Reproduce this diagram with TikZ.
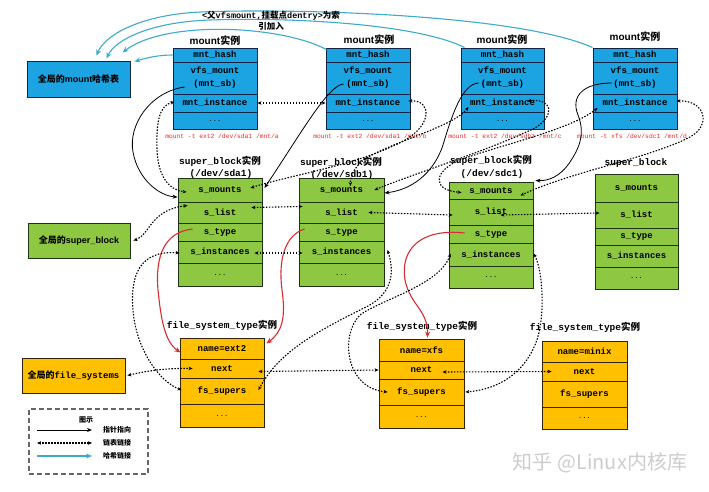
\documentclass[tikz,border=0pt]{standalone}
\usepackage{fontspec}
\setmainfont{Liberation Mono}
\newfontfamily\cjk{Noto Sans CJK SC}
\newfontfamily\sansf{Liberation Sans}
\usetikzlibrary{arrows.meta}
\definecolor{mfill}{RGB}{27,163,226}
\definecolor{mline}{RGB}{15,35,70}
\definecolor{gfill}{RGB}{142,200,66}
\definecolor{gline}{RGB}{30,50,20}
\definecolor{ofill}{RGB}{255,192,0}
\definecolor{oline}{RGB}{50,35,10}
\definecolor{hashc}{RGB}{62,170,205}
\definecolor{redc}{RGB}{215,45,50}
\definecolor{cmdc}{RGB}{235,40,40}
\definecolor{wmark}{RGB}{205,205,205}
\newcommand\zh[1]{{\cjk #1}}
\newcommand\fsz[1]{\fontsize{#1}{#1}\selectfont}
\newcommand\cell[7]{\node[#2, minimum width={(#5-#3)*1pt}, minimum height={(#6-#4)*1pt}] (#1) at ({(#3+#5)/2},{(#4+#6)/2}) {#7};}
\tikzset{
 base/.style={draw, line width=0.9pt, inner sep=0pt, align=center, font=\bfseries\fontsize{9}{13}\selectfont},
 mc/.style={base, draw=mline, fill=mfill},
 sc/.style={base, draw=gline, fill=gfill},
 fc/.style={base, draw=oline, fill=ofill},
 dots/.style={font=\fsz{7}},
 ptr/.style={-{Stealth[length=5pt,width=4pt]}, line width=0.8pt},
 lnk/.style={{Stealth[length=4pt,width=3.5pt]}-{Stealth[length=4pt,width=3.5pt]}, line width=1.1pt, dash pattern=on 1.5pt off 1.5pt},
 typ/.style={-{Stealth[length=6pt,width=5pt]}, line width=1.1pt, draw=redc},
 hsh/.style={-{Stealth[length=6pt,width=5pt]}, line width=1.1pt, draw=hashc},
 ttl/.style={font=\bfseries\fsz{9.5}, inner sep=0pt},
 mttl/.style={font=\sansf\bfseries\fsz{10}, inner sep=0pt},
 cmd/.style={font=\fsz{6.3}, text=cmdc, inner sep=0pt},
 lgd/.style={font=\cjk\bfseries\fsz{7}, inner sep=0pt},
}
\begin{document}
\begin{tikzpicture}[x=1pt,y=-1pt]
\useasboundingbox (0,0) rectangle (709,492);

% global boxes
\cell{g1}{mc}{27}{61}{130}{97}{\zh{全局的}{\sansf mount}\zh{哈希表}}
\cell{g2}{sc}{28}{223}{130}{258}{\zh{全局的}{\sansf super\_block}}
\cell{g3}{fc}{22}{358}{125}{393}{\zh{全局的}file\_systems}

% mount instances
\node[mttl] (tm1) at (215,41) {mount\zh{实例}};
\node[mttl] (tm2) at (369,40) {mount\zh{实例}};
\node[mttl] (tm3) at (502,40) {mount\zh{实例}};
\node[mttl] (tm4) at (635,37) {mount\zh{实例}};
\cell{m1h}{mc}{173}{48}{257}{62}{mnt\_hash}
\cell{m1v}{mc}{173}{62}{257}{94}{vfs\_mount\\(mnt\_sb)}
\cell{m1i}{mc}{173}{94}{257}{112}{mnt\_instance}
\cell{m1d}{mc,dots}{173}{112}{257}{129}{...}
\cell{m2h}{mc}{326}{48}{410}{62}{mnt\_hash}
\cell{m2v}{mc}{326}{62}{410}{94}{vfs\_mount\\(mnt\_sb)}
\cell{m2i}{mc}{326}{94}{410}{112}{mnt\_instance}
\cell{m2d}{mc,dots}{326}{112}{410}{129}{...}
\cell{m3h}{mc}{461}{48}{544}{62}{mnt\_hash}
\cell{m3v}{mc}{461}{62}{544}{94}{vfs\_mount\\(mnt\_sb)}
\cell{m3i}{mc}{461}{94}{544}{112}{mnt\_instance}
\cell{m3d}{mc,dots}{461}{112}{544}{129}{...}
\cell{m4h}{mc}{593}{48}{677}{62}{mnt\_hash}
\cell{m4v}{mc}{593}{62}{677}{94}{vfs\_mount\\(mnt\_sb)}
\cell{m4i}{mc}{593}{94}{677}{112}{mnt\_instance}
\cell{m4d}{mc,dots}{593}{112}{677}{129}{...}
\node[cmd] (c1) at (222,136) {mount -t ext2 /dev/sda1 /mnt/a};
\node[cmd] (c2) at (370,136) {mount -t ext2 /dev/sda1 /mnt/b};
\node[cmd] (c3) at (505,136) {mount -t ext2 /dev/sdb1 /mnt/c};
\node[cmd] (c4) at (632,136) {mount -t xfs /dev/sdc1 /mnt/d};

% super_block instances
\node[ttl] (ts1) at (220,161) {super\_block\zh{实例}};
\node[ttl] (ts1b) at (221,174) {(/dev/sda1)};
\node[ttl] (ts2) at (341,162) {super\_block\zh{实例}};
\node[ttl] (ts2b) at (342,175) {(/dev/sdb1)};
\node[ttl] (ts3) at (491,160) {super\_block\zh{实例}};
\node[ttl] (ts3b) at (492,174) {(/dev/sdc1)};
\node[ttl] (ts4) at (636,163) {super\_block};
\cell{s1m}{sc}{178}{178}{262}{202}{s\_mounts}
\cell{s1l}{sc}{178}{202}{262}{223}{s\_list}
\cell{s1t}{sc}{178}{223}{262}{241}{s\_type}
\cell{s1i}{sc}{178}{241}{262}{263}{s\_instances}
\cell{s1d}{sc,dots}{178}{263}{262}{286}{...}
\cell{s2m}{sc}{299}{178}{384}{202}{s\_mounts}
\cell{s2l}{sc}{299}{202}{384}{223}{s\_list}
\cell{s2t}{sc}{299}{223}{384}{241}{s\_type}
\cell{s2i}{sc}{299}{241}{384}{263}{s\_instances}
\cell{s2d}{sc,dots}{299}{263}{384}{286}{...}
\cell{s3m}{sc}{449}{182}{533}{199}{s\_mounts}
\cell{s3l}{sc}{449}{199}{533}{225}{s\_list}
\cell{s3t}{sc}{449}{225}{533}{243}{s\_type}
\cell{s3i}{sc}{449}{243}{533}{266}{s\_instances}
\cell{s3d}{sc,dots}{449}{266}{533}{288}{...}
\cell{s4m}{sc}{595}{174}{678}{202}{s\_mounts}
\cell{s4l}{sc}{595}{202}{678}{228}{s\_list}
\cell{s4t}{sc}{595}{228}{678}{245}{s\_type}
\cell{s4i}{sc}{595}{245}{678}{267}{s\_instances}
\cell{s4d}{sc,dots}{595}{267}{678}{289}{...}

% file_system_type instances
\node[ttl] (tf1) at (222,325) {file\_system\_type\zh{实例}};
\node[ttl] (tf2) at (422,326) {file\_system\_type\zh{实例}};
\node[ttl] (tf3) at (585,327) {file\_system\_type\zh{实例}};
\cell{f1n}{fc}{180}{338}{264}{359}{name=ext2}
\cell{f1x}{fc}{180}{359}{264}{378}{next}
\cell{f1s}{fc}{180}{378}{264}{404}{fs\_supers}
\cell{f1d}{fc,dots}{180}{404}{264}{427}{...}
\cell{f2n}{fc}{379}{339}{464}{361}{name=xfs}
\cell{f2x}{fc}{379}{361}{464}{379}{next}
\cell{f2s}{fc}{379}{379}{464}{405}{fs\_supers}
\cell{f2d}{fc,dots}{379}{405}{464}{428}{...}
\cell{f3n}{fc}{542}{341}{627}{362}{name=minix}
\cell{f3x}{fc}{542}{362}{627}{381}{next}
\cell{f3s}{fc}{542}{381}{627}{407}{fs\_supers}
\cell{f3d}{fc,dots}{542}{407}{627}{429}{...}

% hash links
\draw[hsh] (m1h.west) .. controls (158,55) and (146,58) .. ([shift={(4,1)}]g1.north east);
\draw[hsh] ([shift={(1,2)}]m2h.north west) .. controls (280,25) and (165,20) .. ([shift={(44,-8)}]g1.north);
\draw[hsh] ([shift={(4,0)}]m3h.north west) .. controls (420,25) and (300,17) .. (210,20) .. controls (150,22) and (115,40) .. ([shift={(28,-2)}]g1.north);
\draw[hsh] (m4h.north west) .. controls (520,15) and (300,8) .. (200,12) .. controls (140,15) and (105,35) .. ([shift={(18,-5)}]g1.north);
\node[font=\bfseries\fontsize{8.5}{11}\selectfont, align=center, inner sep=0pt] (ann) at (271,20.5) {<\zh{父}vfsmount,\zh{挂载点}dentry>\zh{为索}\\\zh{引加入}};

% pointers mnt_sb -> super_block
\draw[ptr] ([shift={(12,9)}]m1v.west) .. controls (150,92) and (128,125) .. (133,152) .. controls (138,180) and (160,196) .. ([shift={(0,7)}]s1m.west);
\draw[ptr] ([shift={(18,6)}]m2v.west) .. controls (328,85) and (300,135) .. ([shift={(2,-2)}]s1m.east);
\draw[ptr] ([shift={(18,5)}]m3v.west) .. controls (462,84) and (452,115) .. (443,145) .. controls (433,175) and (410,190) .. ([shift={(0,3)}]s2m.east);
\draw[ptr] ([shift={(19,5)}]m4v.west) .. controls (585,83) and (570,95) .. (578,115) .. controls (586,135) and (578,150) .. (570,162) .. controls (560,177) and (548,181) .. ([shift={(2,-1)}]s3m.north east);

% s_type -> file_system_type
\draw[typ] ([shift={(15,-3)}]s1t.west) .. controls (165,232) and (155,255) .. (158,290) .. controls (161,320) and (165,342) .. ([shift={(1,4)}]f1n.west);
\draw[typ] ([shift={(6,-3)}]s2t.west) .. controls (285,235) and (278,260) .. (282,290) .. controls (286,318) and (282,332) .. ([shift={(2,-5)}]f1n.east);
\draw[typ] ([shift={(16,-1)}]s3t.west) .. controls (420,228) and (400,250) .. (405,280) .. controls (410,305) and (428,310) .. ([shift={(6,-1)}]f2n.north);

% list links: mnt_instance / s_mounts
\draw[lnk] (m1i.east) -- (m2i.west);
\draw[lnk] ([shift={(2,-1)}]m1i.west) .. controls (160,105) and (156,120) .. (157,150) .. controls (158,175) and (168,190) .. ([shift={(9,2)}]s1m.west);
\draw[lnk] ([shift={(-2,-2)}]m2i.east) .. controls (432,100) and (432,125) .. (405,140) .. controls (360,165) and (290,175) .. ([shift={(-12,-2)}]s1m.east);
\draw[lnk] ([shift={(8,4)}]m3i.west) .. controls (455,125) and (400,140) .. (372,155) .. controls (356,163) and (350,175) .. ([shift={(9,-4)}]s2m.center);
\draw[lnk] ([shift={(-17,-2)}]m3i.east) .. controls (552,98) and (556,115) .. (535,128) .. controls (490,150) and (410,175) .. ([shift={(-10,0)}]s2m.east);
\draw[lnk] ([shift={(5,5)}]m4i.west) .. controls (570,130) and (500,145) .. (460,160) .. controls (435,170) and (430,190) .. ([shift={(13,2)}]s3m.west);
\draw[lnk] ([shift={(-1,-2)}]m4i.east) .. controls (705,100) and (712,125) .. (690,137) .. controls (650,158) and (570,172) .. ([shift={(-13,5)}]s3m.east);

% s_list chain
\draw[lnk] ([shift={(3,0)}]g2.east) .. controls (150,235) and (150,210) .. ([shift={(10,-7)}]s1l.west);
\draw[lnk] ([shift={(-11,-5)}]s1l.east) -- ([shift={(4,-6)}]s2l.west);
\draw[lnk] ([shift={(-16,0)}]s2l.east) -- ([shift={(4,3)}]s3l.west);
\draw[lnk] ([shift={(-33,3)}]s3l.east) -- ([shift={(5,-2)}]s4l.west);

% s_instances / fs_supers
\draw[lnk] ([shift={(2,1)}]s1i.west) .. controls (140,250) and (130,275) .. (133,310) .. controls (136,350) and (160,382) .. ([shift={(2,-1)}]f1s.west);
\draw[lnk] ([shift={(-8,1)}]s1i.east) -- ([shift={(4,1)}]s2i.west);
\draw[lnk] ([shift={(3,-2)}]s2i.east) .. controls (394,270) and (394,292) .. (368,306) .. controls (320,330) and (280,350) .. ([shift={(-6,-1)}]f1s.east);
\draw[lnk] ([shift={(2,-1)}]s3i.west) .. controls (440,285) and (380,300) .. (360,315) .. controls (340,335) and (345,388) .. ([shift={(9,0)}]f2s.west);
\draw[lnk] ([shift={(0,-1)}]s3i.east) .. controls (543,270) and (546,320) .. (535,345) .. controls (520,380) and (490,390) .. ([shift={(1,0)}]f2s.east);

% next chain
\draw[lnk] ([shift={(2,0)}]g3.east) .. controls (150,370) and (170,368) .. ([shift={(13,0)}]f1x.west);
\draw[lnk] ([shift={(-6,3)}]f1x.east) -- (f2x.west);
\draw[lnk] ([shift={(-22,2)}]f2x.east) -- ([shift={(10,0)}]f3x.west);

% legend
\node[draw=black!60, line width=1.2pt, dash pattern=on 5pt off 3pt, minimum width=119pt, minimum height=65pt, inner sep=0pt] (lg) at (88.5,441.5) {};
\node[lgd] (lgt) at (86,420) {图示};
\coordinate (la1) at (37,430); \coordinate (la2) at (92,430);
\coordinate (lb1) at (37,443); \coordinate (lb2) at (92,443);
\coordinate (lc1) at (37,456); \coordinate (lc2) at (92,456);
\draw[ptr] (la1) -- (la2);
\draw[lnk] (lb1) -- (lb2);
\draw[hsh] (lc1) -- (lc2);
\node[lgd] (lta) at (117,430) {指针指向};
\node[lgd] (ltb) at (117,443) {链表链接};
\node[lgd] (ltc) at (117,456) {哈希链接};

% watermark
\node[font=\cjk\fsz{20}, text=wmark, inner sep=0pt] (wm) at (600,463) {知乎 @Linux内核库};
\end{tikzpicture}
\end{document}
